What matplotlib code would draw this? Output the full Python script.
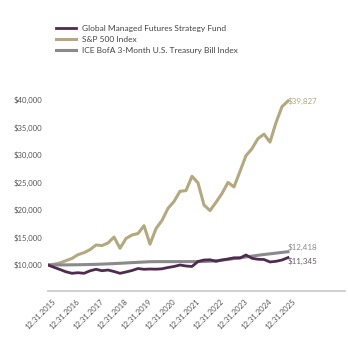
import numpy as np
import matplotlib
matplotlib.use("Agg")
import matplotlib.pyplot as plt
from matplotlib.transforms import ScaledTranslation

# quarterly growth of $10,000, 12.31.2015 -> 12.31.2025
years = [str(y) for y in range(2015, 2026)]
tick_labels = ["12.31." + y for y in years]

fund = [10000, 9580, 9180, 8760, 8490, 8600, 8490, 8940, 9220, 8960,
        9090, 8820, 8490, 8730, 9000, 9360, 9220, 9270, 9240, 9310,
        9545, 9730, 10000, 9820, 9730, 10640, 10910, 10950, 10670, 10910,
        11090, 11310, 11270, 11820, 11220, 11040, 11000, 10550, 10670, 10910,
        11345]
sp500 = [10000, 10135, 10384, 10784, 11196, 11876, 12243, 12791, 13640, 13536,
         14000, 15080, 13041, 14821, 15458, 15721, 17147, 13786, 16618, 18102,
         20302, 21554, 23397, 23533, 26129, 24927, 20914, 19893, 21397, 23002,
         25012, 24194, 27022, 29876, 31155, 32990, 33785, 32343, 35881, 38795,
         39827]
tbill = [10000, 10008, 10015, 10022, 10033, 10044, 10067, 10093, 10119, 10161,
         10207, 10256, 10309, 10370, 10432, 10489, 10544, 10603, 10612, 10613,
         10614, 10615, 10616, 10617, 10620, 10621, 10634, 10682, 10775, 10893,
         11021, 11167, 11315, 11461, 11611, 11766, 11909, 12031, 12160, 12290,
         12418]

names = ["Global Managed Futures Strategy Fund", "S&P 500 Index",
         "ICE BofA 3-Month U.S. Treasury Bill Index"]
c_fund = "#4f2b4f"
c_sp = "#b3a87f"
c_tb = "#8a8a8d"

plt.rcParams['font.family'] = ['Lato', 'DejaVu Sans']

fig = plt.figure(figsize=(3.48, 3.40), dpi=100)
ax = fig.add_axes([48/348, 1-291/340, 297/348, (291-95)/340])

q = np.arange(len(fund))
l1, = ax.plot(q, fund, color=c_fund, lw=2.0, label=names[0], zorder=4)
l2, = ax.plot(q, sp500, color=c_sp, lw=2.2, label=names[1], zorder=3)
l3, = ax.plot(q, tbill, color=c_tb, lw=2.2, label=names[2], zorder=3)

ax.set_xlim(0, 49.5)
ax.set_ylim(5273, 40909)

yt = [10000, 15000, 20000, 25000, 30000, 35000, 40000]
ax.set_yticks(yt)
ax.set_yticklabels(["${:,}".format(v) for v in yt])
ax.set_xticks(np.arange(0, 41, 4))
ax.set_xticklabels(tick_labels, rotation=45, ha='right', va='top',
                   rotation_mode='anchor')
ax.tick_params(axis='both', length=0, labelsize=5.6, colors='#555555')
ax.tick_params(axis='y', pad=4)
ax.tick_params(axis='x', pad=5)
# nudge the slanted date labels to the right
shift = ScaledTranslation(4/100, 0, fig.dpi_scale_trans)
for lab in ax.get_xticklabels():
    lab.set_transform(lab.get_transform() + shift)

for s in ['top', 'right', 'left']:
    ax.spines[s].set_visible(False)
ax.spines['bottom'].set_color('#cccccc')
ax.spines['bottom'].set_linewidth(1.3)

# end value labels
ax.annotate("${:,}".format(sp500[-1]), (q[-1], sp500[-1]), xytext=(0, 0),
            textcoords='offset pixels', ha='left', va='center', fontsize=5.8, color=c_sp)
ax.annotate("${:,}".format(tbill[-1]), (q[-1], tbill[-1]), xytext=(0, 4),
            textcoords='offset pixels', ha='left', va='center', fontsize=5.8, color=c_tb)
ax.annotate("${:,}".format(fund[-1]), (q[-1], fund[-1]), xytext=(0, -4),
            textcoords='offset pixels', ha='left', va='center', fontsize=5.8, color='#6e5a6e')

fig.legend(handles=[l1, l2, l3], loc='upper left', bbox_to_anchor=(56/348, 1-25/340),
           frameon=False, fontsize=6, handlelength=2.4, handletextpad=0.7,
           labelspacing=0.45, borderpad=0, borderaxespad=0, labelcolor='#444444')

plt.savefig('out.png', dpi=100)
